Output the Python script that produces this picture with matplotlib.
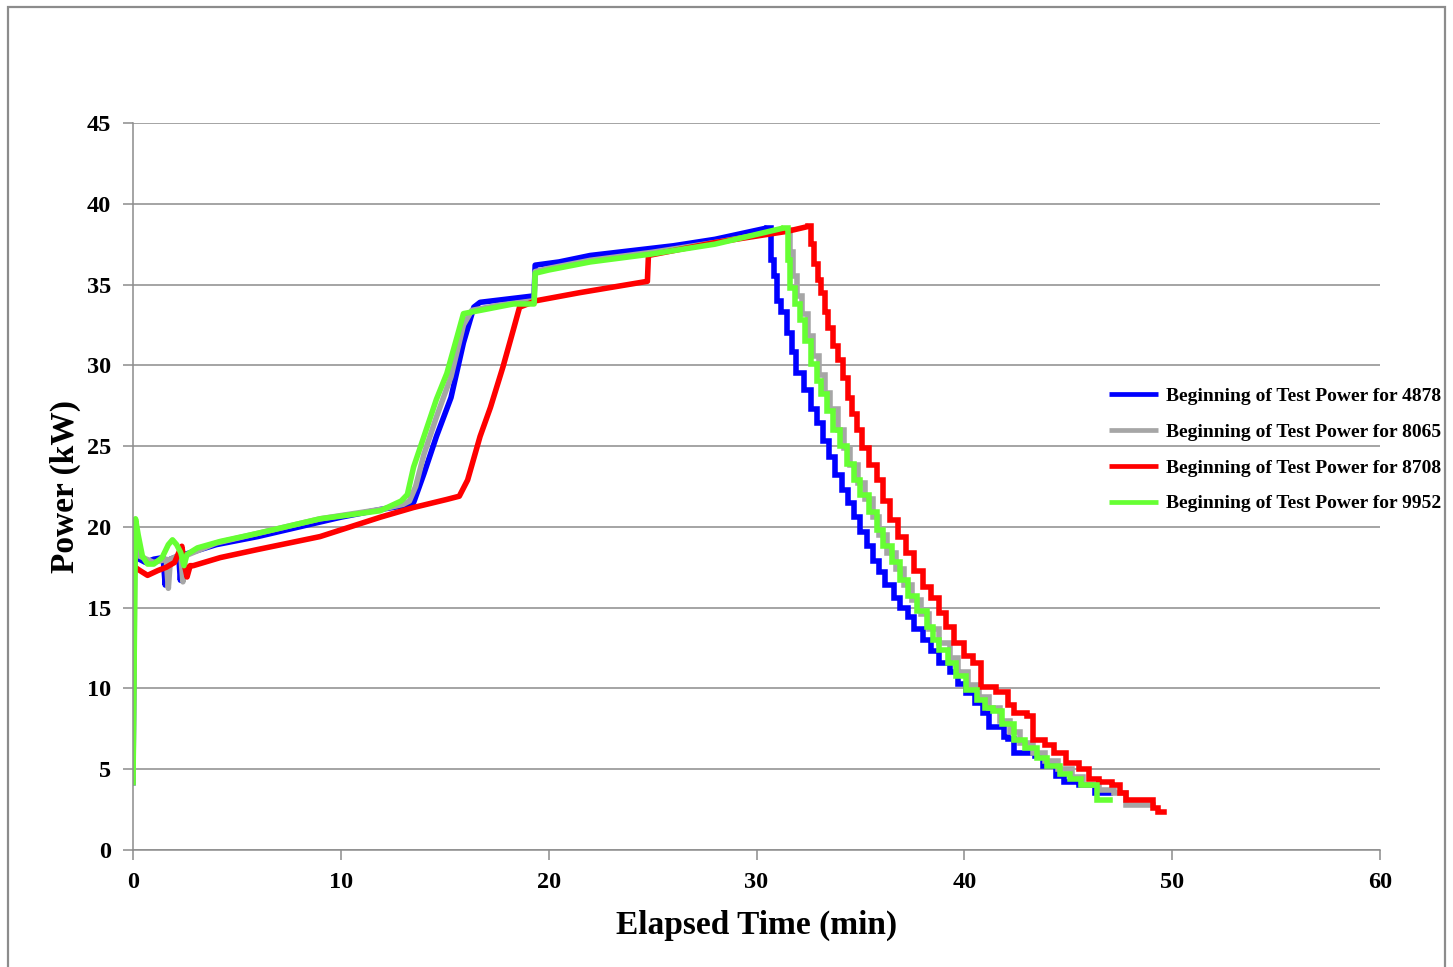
import matplotlib
matplotlib.use("Agg")
import matplotlib.pyplot as plt
from matplotlib.patches import Rectangle

plt.rcParams['font.family'] = ['Liberation Serif', 'DejaVu Serif']
plt.rcParams['font.weight'] = 'bold'

labels = ["Beginning of Test Power for 4878", "Beginning of Test Power for 8065",
          "Beginning of Test Power for 8708", "Beginning of Test Power for 9952"]
colors = ["#0000FF", "#A6A6A6", "#FF0000", "#66FF33"]

# ---- Series 4878 (blue) ----
b_t = [0, 0.08, 0.15, 0.3, 0.6, 1.0, 1.45, 1.55, 1.65, 1.8, 2.2, 2.28, 2.35, 2.5, 4, 6, 8, 10, 12, 13.0,
       13.5, 14.0, 14.6, 15.3, 15.9, 16.4, 16.7, 18.0, 19.3, 19.35, 20.5, 22, 24, 26, 28, 30.5]
b_p = [4.0, 20.3, 19.5, 18.0, 17.8, 18.0, 18.1, 16.4, 17.9, 18.0, 18.2, 16.7, 18.0, 18.3, 18.9, 19.4, 20.0, 20.6, 21.1, 21.3,
       21.5, 23.3, 25.6, 28.0, 31.4, 33.6, 33.9, 34.1, 34.3, 36.2, 36.4, 36.8, 37.1, 37.4, 37.8, 38.5]
b_dt = [30.5, 30.6, 30.7, 30.85, 31.0, 31.2, 31.45, 31.7, 31.9, 32.3, 32.6, 32.9, 33.2, 33.5, 33.8, 34.1, 34.4,
        34.7, 35.0, 35.3, 35.6, 35.9, 36.2, 36.6, 36.9, 37.3, 37.6, 38.0, 38.4, 38.8, 39.3, 39.7, 40.1, 40.5,
        40.9, 41.2, 41.9, 42.1, 42.4, 43.4, 43.8, 44.4, 44.8, 45.5, 46.3, 47.0]
b_dp = [38.5, 38.5, 36.5, 35.5, 34.0, 33.3, 32.0, 30.8, 29.5, 28.5, 27.3, 26.4, 25.3, 24.3, 23.2, 22.3, 21.5,
        20.6, 19.7, 18.8, 17.9, 17.2, 16.4, 15.6, 15.0, 14.4, 13.7, 13.0, 12.3, 11.6, 11.0, 10.3, 9.7, 9.1,
        8.5, 7.6, 7.0, 6.9, 6.0, 5.8, 5.2, 4.6, 4.2, 4.0, 3.5, 3.5]

# ---- Series 8065 (gray) ----
g_t = [0, 0.1, 0.3, 1.0, 1.6, 1.7, 1.8, 2.3, 2.4, 2.5, 4, 6, 9, 12, 13.0, 13.3, 13.6, 14.0, 14.6, 15.3, 15.9,
       16.3, 17.5, 19.3, 19.35, 20, 22, 25, 28, 31.5]
g_p = [4.0, 20.0, 18.2, 17.8, 18.0, 16.2, 18.0, 18.3, 16.6, 18.2, 19.0, 19.6, 20.5, 21.1, 21.4, 21.6, 22.5, 24.5, 26.8, 29.3, 32.5,
       33.4, 33.7, 34.0, 35.8, 36.0, 36.5, 37.0, 37.6, 38.4]
g_dt = [31.5, 31.6, 31.75, 31.95, 32.2, 32.5, 32.7, 33.0, 33.3, 33.55, 33.9, 34.2, 34.5, 34.9, 35.2, 35.6, 35.9,
        36.3, 36.7, 37.1, 37.5, 37.9, 38.3, 38.8, 39.3, 39.7, 40.2, 40.7, 41.2, 41.7, 42.2, 42.7, 43.3, 43.9,
        44.5, 45.2, 45.7, 46.5, 47.2, 47.8, 49.1]
g_dp = [38.4, 37.0, 35.5, 34.3, 33.2, 31.8, 30.6, 29.4, 28.3, 27.3, 26.0, 24.9, 23.8, 22.7, 21.7, 20.6, 19.5,
        18.4, 17.4, 16.4, 15.5, 14.6, 13.7, 12.8, 11.9, 11.0, 10.2, 9.5, 8.8, 8.0, 7.3, 6.6, 6.0, 5.5,
        5.0, 4.5, 4.0, 3.7, 3.5, 2.8, 2.8]

# ---- Series 8708 (red) ----
r_t = [0, 0.1, 0.33, 0.7, 1.2, 1.6, 2.0, 2.2, 2.35, 2.5, 2.6, 2.75, 2.9, 4.2, 6, 9, 11.9, 13.5, 15.1, 15.7,
       16.1, 16.7, 17.2, 17.8, 18.3, 18.6, 19.4, 21.5, 24.75, 24.8, 26, 28, 30, 31.5, 32.5]
r_p = [18.0, 17.5, 17.3, 17.0, 17.3, 17.5, 17.8, 18.4, 18.8, 17.5, 16.9, 17.6, 17.6, 18.1, 18.6, 19.4, 20.6, 21.2, 21.7, 21.9,
       22.9, 25.6, 27.4, 29.9, 32.2, 33.6, 34.0, 34.5, 35.2, 36.8, 37.1, 37.6, 38.0, 38.3, 38.6]
r_dt = [32.5, 32.6, 32.75, 32.95, 33.1, 33.3, 33.45, 33.7, 33.9, 34.15, 34.4, 34.6, 34.85, 35.1, 35.4, 35.8,
        36.1, 36.4, 36.8, 37.2, 37.6, 38.0, 38.4, 38.8, 39.1, 39.5, 40.0, 40.4, 40.8, 41.5, 42.1, 42.4, 43.0,
        43.3, 43.9, 44.3, 44.9, 45.5, 46.0, 46.5, 47.1, 47.5, 47.8, 49.1, 49.3, 49.6]
r_dp = [38.6, 37.5, 36.3, 35.3, 34.5, 33.3, 32.3, 31.2, 30.3, 29.2, 28.0, 27.0, 26.0, 24.9, 23.8, 22.9,
        21.6, 20.4, 19.4, 18.4, 17.3, 16.3, 15.6, 14.7, 13.8, 12.8, 12.0, 11.6, 10.1, 9.8, 9.0, 8.5, 8.3,
        6.8, 6.5, 6.0, 5.4, 5.0, 4.4, 4.2, 4.0, 3.5, 3.1, 2.6, 2.35, 2.35]

# ---- Series 9952 (green) ----
n_t = [0, 0.12, 0.25, 0.45, 0.7, 1.0, 1.4, 1.7, 1.9, 2.1, 2.3, 2.45, 2.6, 3.1, 4.2, 6, 9, 11.9, 12.9, 13.2,
       13.5, 14.0, 14.6, 15.1, 15.6, 15.9, 16.7, 18.3, 19.3, 19.35, 20, 22, 25, 28, 31.3]
n_p = [4.0, 20.5, 19.5, 18.2, 17.7, 17.7, 18.1, 18.9, 19.2, 18.9, 18.4, 17.6, 18.3, 18.7, 19.1, 19.6, 20.5, 21.0, 21.6, 22.0,
       23.7, 25.6, 27.9, 29.5, 31.8, 33.2, 33.4, 33.8, 33.8, 35.7, 35.9, 36.4, 36.9, 37.5, 38.5]
n_dt = [31.3, 31.4, 31.5, 31.6, 31.85, 32.1, 32.35, 32.6, 32.9, 33.1, 33.4, 33.7, 34.0, 34.35, 34.7, 35.0,
        35.4, 35.8, 36.1, 36.5, 36.9, 37.3, 37.7, 38.2, 38.5, 38.8, 39.2, 39.6, 40.1, 40.6, 41.0, 41.4, 41.8,
        42.4, 42.9, 43.5, 44.0, 44.6, 45.1, 45.6, 46.4, 47.0]
n_dp = [38.5, 38.5, 36.5, 34.8, 33.8, 32.8, 31.5, 30.1, 29.0, 28.2, 27.2, 26.0, 25.0, 23.9, 22.9, 22.0,
        20.9, 19.8, 18.8, 17.8, 16.7, 15.7, 14.8, 13.8, 13.0, 12.4, 11.6, 10.8, 9.9, 9.3, 8.8, 8.6, 7.8,
        6.8, 6.3, 5.7, 5.2, 4.7, 4.4, 4.0, 3.1, 3.1]

series = [(b_t, b_p, b_dt, b_dp), (g_t, g_p, g_dt, g_dp), (r_t, r_p, r_dt, r_dp), (n_t, n_p, n_dt, n_dp)]

x_ticks = [0, 10, 20, 30, 40, 50, 60]
y_ticks = [0, 5, 10, 15, 20, 25, 30, 35, 40, 45]

fig = plt.figure(figsize=(14.53, 9.67), dpi=100)
fig.patches.append(Rectangle((8 / 1453, -0.05), (1445 - 8) / 1453, 1.05 - 7 / 967,
                             transform=fig.transFigure, fill=False, edgecolor="#8c8c8c", linewidth=1.6))
ax = fig.add_axes([133 / 1453, 1 - 850 / 967, (1380 - 133) / 1453, (850 - 123) / 967])

lw = 4.0
handles = []
for (t, p, dt, dp), c, lab in zip(series, colors, labels):
    h, = ax.plot(t, p, color=c, lw=lw, label=lab, solid_joinstyle='round', solid_capstyle='butt')
    ax.plot(dt, dp, color=c, lw=lw, drawstyle='steps-post', solid_joinstyle='miter')
    handles.append(h)

ax.set_xlim(0, 60)
ax.set_ylim(0, 45)
ax.set_xticks(x_ticks)
ax.set_yticks(y_ticks)
ax.grid(axis='y', color='#8c8c8c', linewidth=1.1)
ax.set_axisbelow(True)
for s in ['top', 'right']:
    ax.spines[s].set_visible(False)
for s in ['left', 'bottom']:
    ax.spines[s].set_color('#8c8c8c')
    ax.spines[s].set_linewidth(1.1)
ax.tick_params(axis='both', direction='out', length=7, color='#8c8c8c', width=1.1,
               labelsize=17.5, pad=9)
for lbl in ax.get_xticklabels() + ax.get_yticklabels():
    lbl.set_fontweight('bold')

ax.set_xlabel("Elapsed Time (min)", fontsize=24, fontweight='bold', labelpad=12)
ax.set_ylabel("Power (kW)", fontsize=24, fontweight='bold', labelpad=4)

leg = fig.legend(handles=handles, labels=labels, loc='center left',
                 bbox_to_anchor=(1109 / 1453, 1 - 450 / 967), frameon=False,
                 prop={'size': 14.0, 'weight': 'bold'}, handlelength=2.5, handletextpad=0.45,
                 labelspacing=0.93, borderpad=0, borderaxespad=0)
for ln in leg.get_lines():
    ln.set_linewidth(3.4)

fig.savefig("out.png", dpi=100)
